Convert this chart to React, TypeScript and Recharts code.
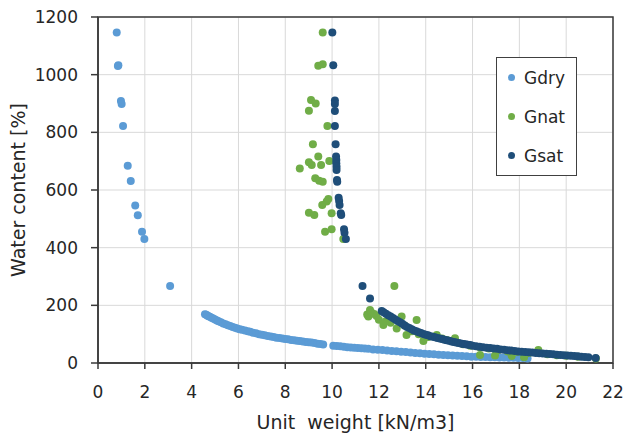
import React from "react";
import {
  ScatterChart,
  Scatter,
  XAxis,
  YAxis,
  CartesianGrid,
  ReferenceArea,
} from "recharts";

// unit weight [kN/m3] vs water content [%]
const gdry = [
  [0.8, 1146], [0.87, 1033], [0.85, 1030], [0.98, 909], [1.01, 898], [1.07, 822],
  [1.27, 684], [1.4, 631], [1.59, 546], [1.7, 512], [1.88, 455], [1.98, 430], [3.08, 267],
  [4.57, 169], [4.62, 167], [4.67, 165], [4.72, 162], [4.78, 160], [4.85, 157], [4.92, 154],
  [5.0, 151], [5.08, 147], [5.15, 145], [5.25, 141], [5.35, 137], [5.45, 134], [5.55, 131],
  [5.65, 128], [5.75, 125], [5.85, 122], [5.95, 120], [6.05, 117], [6.15, 115], [6.28, 113],
  [6.4, 110], [6.5, 108], [6.62, 105], [6.75, 103], [6.88, 100], [7.0, 98], [7.12, 96],
  [7.25, 94], [7.38, 92], [7.5, 90], [7.62, 88], [7.75, 87], [7.88, 85], [8.0, 83],
  [8.12, 82], [8.25, 80], [8.38, 79], [8.5, 77], [8.62, 76], [8.75, 75], [8.88, 73],
  [9.0, 72], [9.12, 71], [9.25, 69], [9.38, 67], [9.5, 66], [9.62, 64],
  [10.05, 60], [10.2, 59], [10.35, 58], [10.5, 56], [10.65, 55], [10.8, 54], [10.95, 53],
  [11.1, 52], [11.25, 51], [11.4, 50], [11.55, 49], [11.75, 47], [11.95, 46], [12.15, 45],
  [12.35, 43], [12.55, 42], [12.75, 41], [12.95, 39], [13.15, 38], [13.35, 36], [13.55, 35],
  [13.75, 34], [13.95, 32], [14.15, 31], [14.35, 30], [14.55, 29], [14.75, 28], [14.95, 27],
  [15.15, 26], [15.35, 25], [15.55, 24], [15.75, 23], [15.95, 22], [16.15, 22], [16.35, 21],
  [16.55, 21], [16.75, 20], [16.95, 20], [17.15, 19], [17.35, 19], [17.55, 18], [17.75, 18],
  [17.95, 17], [18.15, 17], [18.35, 16],
];

const gnat = [
  [9.6, 1146], [9.41, 1031], [9.6, 1036], [9.1, 912], [9.3, 900], [9.01, 875], [9.8, 822],
  [9.18, 759], [9.41, 716], [9.01, 696], [9.13, 687], [9.53, 687], [9.88, 701], [8.62, 675],
  [9.28, 641], [9.45, 632], [9.6, 629], [9.84, 569], [9.77, 560], [9.58, 548], [9.01, 521],
  [9.24, 513], [9.98, 519], [9.7, 455], [9.98, 464], [10.48, 430],
  [12.66, 267], [11.5, 168], [11.55, 161], [11.62, 184], [11.69, 174], [11.8, 170],
  [11.9, 163], [12.0, 150], [12.19, 132], [12.3, 145], [12.5, 140], [12.76, 120],
  [12.97, 161], [13.1, 130], [13.18, 97], [13.4, 110], [13.61, 149], [13.7, 100],
  [13.9, 76], [14.1, 90], [14.47, 97], [14.7, 85], [14.9, 80], [15.25, 74], [15.25, 86],
  [15.6, 65], [15.9, 60], [16.32, 28], [16.3, 55], [16.7, 50], [16.96, 26], [17.1, 45],
  [17.5, 40], [17.67, 24], [17.9, 38], [18.2, 20], [18.4, 35], [18.81, 45], [19.2, 30],
  [19.6, 27], [20.0, 25], [20.5, 22], [21.27, 16],
];

const gsat = [
  [10.01, 1146], [10.05, 1033], [10.12, 910], [10.12, 898], [10.12, 874], [10.12, 822],
  [10.15, 759], [10.17, 716], [10.18, 704], [10.18, 693], [10.19, 681], [10.19, 669],
  [10.21, 635], [10.22, 629], [10.28, 573], [10.3, 562], [10.32, 548], [10.37, 519],
  [10.39, 513], [10.51, 464], [10.53, 452], [10.59, 430],
  [11.3, 267], [11.62, 224], [12.12, 180], [12.2, 176], [12.3, 171], [12.4, 166],
  [12.5, 161], [12.6, 156], [12.7, 151], [12.8, 146], [12.9, 141], [13.0, 136],
  [13.1, 130], [13.2, 125], [13.3, 121], [13.4, 117], [13.5, 113], [13.6, 110],
  [13.7, 107], [13.8, 104], [13.9, 101], [14.0, 98], [14.1, 96], [14.2, 93], [14.3, 91],
  [14.4, 89], [14.5, 87], [14.6, 85], [14.7, 83], [14.8, 81], [14.9, 79], [15.0, 77],
  [15.1, 75], [15.2, 73], [15.3, 71], [15.4, 69], [15.5, 68], [15.6, 66], [15.7, 65],
  [15.8, 63], [15.9, 62], [16.0, 60], [16.15, 58], [16.3, 56], [16.45, 55], [16.6, 53],
  [16.75, 52], [16.9, 50], [17.05, 49], [17.2, 47], [17.35, 46], [17.5, 44], [17.65, 43],
  [17.8, 42], [17.95, 40], [18.1, 39], [18.25, 38], [18.4, 37], [18.55, 36], [18.7, 35],
  [18.85, 34], [19.0, 33], [19.15, 32], [19.3, 31], [19.45, 30], [19.6, 29], [19.75, 28],
  [19.9, 27], [20.05, 26], [20.2, 25], [20.35, 24], [20.5, 23], [20.65, 22], [20.8, 21],
  [20.95, 20], [21.26, 17],
];

const xTicks = [0, 2, 4, 6, 8, 10, 12, 14, 16, 18, 20, 22];
const yTicks = [0, 200, 400, 600, 800, 1000, 1200];

const seriesNames = ["Gdry", "Gnat", "Gsat"];
const seriesColors = ["#5b9bd5", "#70ad47", "#1f4e79"];
const seriesData = [gdry, gnat, gsat];

const toPoints = (arr: number[][]) => arr.map(([x, y]) => ({ x, y }));

const FONT = "'DejaVu Sans', sans-serif";
const AXIS = "#3a3a3a";
const TEXT = "#262626";

const Dot = (color: string) => (props: any) =>
  <circle cx={props.cx} cy={props.cy} r={4} fill={color} />;

function LegendBox() {
  return (
    <div
      style={{
        position: "absolute",
        left: 496,
        top: 57,
        width: 79,
        height: 117,
        border: "1.5px solid #404040",
        background: "#fff",
        fontFamily: FONT,
        fontSize: 17,
        color: TEXT,
      }}
    >
      {seriesNames.map((name, i) => (
        <div key={name} style={{ display: "flex", alignItems: "center", height: 39, paddingLeft: 11 }}>
          <span
            style={{
              display: "inline-block",
              width: 7,
              height: 7,
              borderRadius: "50%",
              background: seriesColors[i],
              marginRight: 9,
            }}
          />
          {name}
        </div>
      ))}
    </div>
  );
}

export default function App() {
  return (
    <div style={{ position: "absolute", left: 0, top: 0, width: 623, height: 439, background: "#fff" }}>
      <ScatterChart width={623} height={439} margin={{ top: 17, right: 10, left: 0, bottom: 0 }}>
        <CartesianGrid stroke="#d9d9d9" strokeWidth={1} />
        <XAxis
          type="number"
          dataKey="x"
          domain={[0, 22]}
          ticks={xTicks}
          interval={0}
          height={76}
          stroke={AXIS}
          strokeWidth={1.5}
          tickSize={6}
          tickMargin={17}
          tick={{ fill: TEXT, fontSize: 17, fontFamily: FONT }}
          label={{
            value: "Unit\u00a0 weight [kN/m3]",
            position: "insideBottom",
            offset: 10,
            style: { fill: TEXT, fontSize: 19, fontFamily: FONT },
          }}
        />
        <YAxis
          type="number"
          dataKey="y"
          domain={[0, 1200]}
          ticks={yTicks}
          interval={0}
          width={98}
          stroke={AXIS}
          strokeWidth={1.5}
          tickSize={7}
          tickMargin={13}
          tick={{ fill: TEXT, fontSize: 17, fontFamily: FONT }}
          label={{
            value: "Water content [%]",
            angle: -90,
            position: "insideLeft",
            offset: 18,
            textAnchor: "middle",
            style: { fill: TEXT, fontSize: 19, fontFamily: FONT, textAnchor: "middle" },
          }}
        />
        <ReferenceArea x1={0} x2={22} y1={0} y2={1200} fill="none" stroke={AXIS} strokeWidth={1.5} />
        {seriesNames.map((name, i) => (
          <Scatter
            key={name}
            name={name}
            data={toPoints(seriesData[i])}
            fill={seriesColors[i]}
            shape={Dot(seriesColors[i])}
            isAnimationActive={false}
          />
        ))}
      </ScatterChart>
      <LegendBox />
    </div>
  );
}
